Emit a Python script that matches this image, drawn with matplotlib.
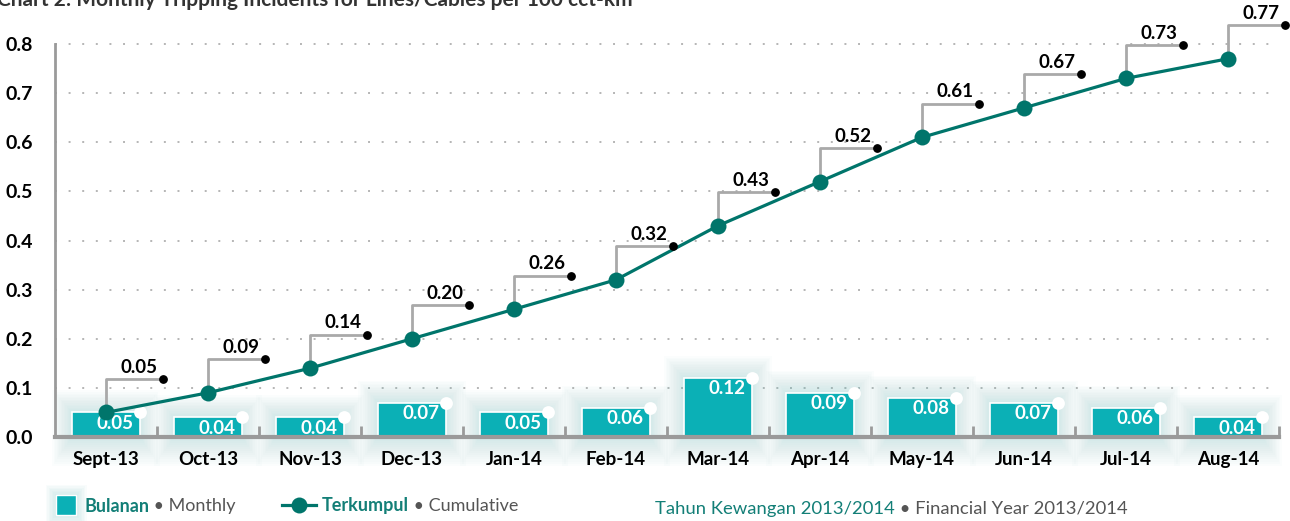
import matplotlib
matplotlib.use("Agg")
import matplotlib.pyplot as plt
from matplotlib.patches import Rectangle
from matplotlib.lines import Line2D

plt.rcParams['font.family'] = ['Lato', 'DejaVu Sans']

categories = ["Sept-13", "Oct-13", "Nov-13", "Dec-13", "Jan-14", "Feb-14",
              "Mar-14", "Apr-14", "May-14", "Jun-14", "Jul-14", "Aug-14"]
monthly = [0.05, 0.04, 0.04, 0.07, 0.05, 0.06, 0.12, 0.09, 0.08, 0.07, 0.06, 0.04]
cumulative = [0.05, 0.09, 0.14, 0.20, 0.26, 0.32, 0.43, 0.52, 0.61, 0.67, 0.73, 0.77]
yticks = [0.0, 0.1, 0.2, 0.3, 0.4, 0.5, 0.6, 0.7, 0.8]
title = "Chart 2: Monthly Tripping Incidents for Lines/Cables per 100 cct-km"

BAR = "#0bb0b6"
LINE = "#00756b"
TEAL_TXT = "#137f77"
GRAY_TXT = "#555555"
LEAD = "#a9a9a9"
AXC = "#9a9a9a"

W, H = 1290, 521
fig = plt.figure(figsize=(W / 100, H / 100), dpi=100)
ax_left, ax_right = 55, 1279
y0_px, y8_px = 437, 44
ax = fig.add_axes([ax_left / W, 1 - y0_px / H, (ax_right - ax_left) / W, (y0_px - y8_px) / H])
ax.set_xlim(-0.5, len(categories) - 0.5)
ax.set_ylim(0, 0.8)

x = list(range(len(categories)))
bw = 0.66

# glow behind bars
for i, h in enumerate(monthly):
    for k in range(1, 15):
        px = k * 0.014
        py = k * 0.0032
        r = Rectangle((i - bw / 2 - px, -py * 1.3), bw + 2 * px, h + py * 2.3,
                      facecolor="#5fbcbc", edgecolor="none", alpha=0.02,
                      zorder=1, clip_on=False)
        ax.add_patch(r)

ax.bar(x, monthly, width=bw, color=BAR, edgecolor="white", linewidth=1.2, zorder=3)

# white dots at bar corners
ax.scatter([i + bw / 2 for i in x], monthly, s=85, color="white", zorder=4,
           clip_on=False, linewidths=0)

# bar value labels
for i, h in enumerate(monthly):
    yl = max(h - 0.022, 0.017)
    ax.text(i + 0.09, yl, f"{h:.2f}", color="white", fontsize=13.5,
            fontweight="bold", ha="center", va="center", zorder=5)

# line
ax.plot(x, cumulative, color=LINE, lw=2.3, marker="o", markersize=11.5,
        markeredgewidth=0, zorder=6, clip_on=False)

# leader annotations
dy = 0.068
dx = 0.56
for i, v in enumerate(cumulative):
    ax.plot([i, i, i + dx], [v, v + dy, v + dy], color=LEAD, lw=2,
            zorder=2, clip_on=False, solid_capstyle="butt")
    ax.scatter([i + dx], [v + dy], s=28, color="black", zorder=7, clip_on=False)
    ax.text(i + 0.32, v + dy + 0.007, f"{v:.2f}", color="black", fontsize=13.5,
            fontweight="bold", ha="center", va="bottom", zorder=7, clip_on=False)

# grid
for t in yticks[1:]:
    ax.plot([-0.5, 11.42], [t, t], color="#b5b5b5", lw=1.4,
            linestyle=(0, (1, 6)), zorder=0.5, clip_on=False)

# axes styling
for s in ["top", "right"]:
    ax.spines[s].set_visible(False)
ax.spines["left"].set_color(AXC)
ax.spines["left"].set_linewidth(2)
ax.spines["bottom"].set_color(AXC)
ax.spines["bottom"].set_linewidth(3)
ax.spines["bottom"].set_zorder(8)
ax.set_yticks(yticks)
ax.set_yticklabels([f"{t:.1f}" for t in yticks], fontsize=14, fontweight="bold")
ax.tick_params(axis="y", length=0, pad=16)
ax.set_xticks(x)
ax.set_xticklabels(categories, fontsize=13.5, fontweight="bold")
ax.tick_params(axis="x", which="major", length=0, pad=10)
ax.set_xticks([i + 0.5 for i in x], minor=True)
ax.tick_params(axis="x", which="minor", direction="in", length=8, width=2, color=AXC)
ax.patch.set_alpha(0)

# title (clipped at top, as in the reference)
fig.text(-3 / W, 1 - 6 / H, title, fontsize=15, fontweight="bold",
         color="#333333", va="baseline", ha="left")

# legend (manual)
renderer = fig.canvas.get_renderer()

def seq_text(xpx, ypx, parts, size=13):
    cur = xpx
    for txt, col, wt in parts:
        t = fig.text(cur / W, 1 - ypx / H, txt, fontsize=size, color=col,
                     fontweight=wt, va="center", ha="left")
        bb = t.get_window_extent(renderer=renderer)
        cur = bb.x1
    return cur

# square with glow
for k in range(1, 8):
    p = k * 1.5
    fig.patches.append(Rectangle(((56 - p) / W, 1 - (515 + p) / H), (20 + 2 * p) / W,
                                 (20 + 2 * p) / H, transform=fig.transFigure,
                                 facecolor="#5fbcbc", alpha=0.035, edgecolor="none"))
fig.patches.append(Rectangle((56 / W, 1 - 515 / H), 20 / W, 20 / H,
                             transform=fig.transFigure, facecolor=BAR,
                             edgecolor="white", lw=1))
seq_text(84, 506, [("Bulanan", TEAL_TXT, "bold"), (" \u2022 Monthly", GRAY_TXT, "normal")])

fig.lines.append(Line2D([282 / W, 316 / W], [1 - 505 / H, 1 - 505 / H],
                        transform=fig.transFigure, color=LINE, lw=2.3))
fig.lines.append(Line2D([299 / W], [1 - 505 / H], transform=fig.transFigure,
                        color=LINE, marker="o", markersize=11.5, markeredgewidth=0))
seq_text(322, 506, [("Terkumpul", TEAL_TXT, "bold"), (" \u2022 Cumulative", GRAY_TXT, "normal")])

seq_text(655, 509, [("Tahun Kewangan 2013/2014", TEAL_TXT, "normal"),
                    (" \u2022 Financial Year 2013/2014", GRAY_TXT, "normal")], size=13.3)

fig.savefig("out.png", dpi=100)
